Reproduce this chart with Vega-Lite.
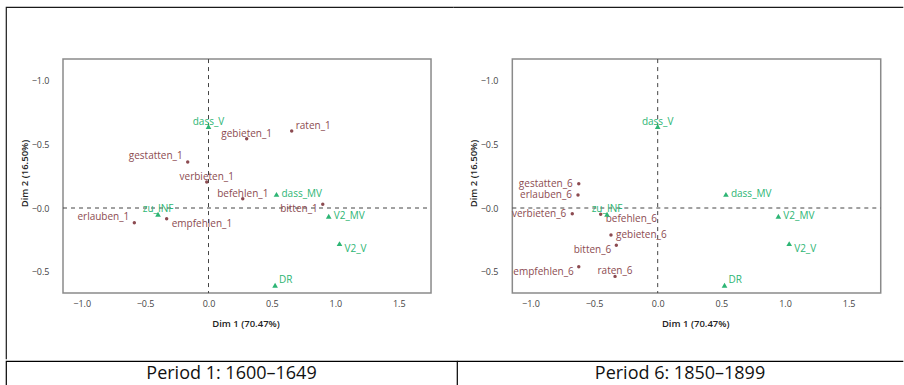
{
  "$schema": "https://vega.github.io/schema/vega-lite/v6.json",
  "background": "white",
  "padding": {"left": 5, "top": 6, "right": 0, "bottom": 0},
  "datasets": {
    "points": [
      {"label": "raten_1", "set": "verb", "period": "1600–1649", "dim1": 0.656, "dim2": -0.605},
      {"label": "gebieten_1", "set": "verb", "period": "1600–1649", "dim1": 0.301, "dim2": -0.544},
      {"label": "gestatten_1", "set": "verb", "period": "1600–1649", "dim1": -0.164, "dim2": -0.361},
      {"label": "verbieten_1", "set": "verb", "period": "1600–1649", "dim1": -0.014, "dim2": -0.204},
      {"label": "befehlen_1", "set": "verb", "period": "1600–1649", "dim1": 0.270, "dim2": -0.073},
      {"label": "bitten_1", "set": "verb", "period": "1600–1649", "dim1": 0.901, "dim2": -0.029},
      {"label": "erlauben_1", "set": "verb", "period": "1600–1649", "dim1": -0.585, "dim2": 0.115},
      {"label": "empfehlen_1", "set": "verb", "period": "1600–1649", "dim1": -0.330, "dim2": 0.084},
      {"label": "gestatten_6", "set": "verb", "period": "1850–1899", "dim1": -0.620, "dim2": -0.191},
      {"label": "erlauben_6", "set": "verb", "period": "1850–1899", "dim1": -0.626, "dim2": -0.102},
      {"label": "verbieten_6", "set": "verb", "period": "1850–1899", "dim1": -0.671, "dim2": 0.045},
      {"label": "befehlen_6", "set": "verb", "period": "1850–1899", "dim1": -0.448, "dim2": 0.049},
      {"label": "gebieten_6", "set": "verb", "period": "1850–1899", "dim1": -0.367, "dim2": 0.212},
      {"label": "bitten_6", "set": "verb", "period": "1850–1899", "dim1": -0.325, "dim2": 0.293},
      {"label": "empfehlen_6", "set": "verb", "period": "1850–1899", "dim1": -0.620, "dim2": 0.461},
      {"label": "raten_6", "set": "verb", "period": "1850–1899", "dim1": -0.335, "dim2": 0.537},
      {"label": "dass_V", "set": "construction", "period": "all", "dim1": 0.0, "dim2": -0.64},
      {"label": "dass_MV", "set": "construction", "period": "all", "dim1": 0.536, "dim2": -0.107},
      {"label": "zu_INF", "set": "construction", "period": "all", "dim1": -0.398, "dim2": 0.049},
      {"label": "V2_MV", "set": "construction", "period": "all", "dim1": 0.948, "dim2": 0.065},
      {"label": "V2_V", "set": "construction", "period": "all", "dim1": 1.033, "dim2": 0.28},
      {"label": "DR", "set": "construction", "period": "all", "dim1": 0.525, "dim2": 0.607}
    ]
  },
  "spacing": 0,
  "vconcat": [
    {
      "bounds": "flush",
      "spacing": 0,
      "hconcat": [
        {
          "width": 447,
          "height": 352,
          "view": {"stroke": "#1a1a1a", "strokeWidth": 1.2, "strokeDash": [447, 799, 352]},
          "layer": [
            {
              "data": {"values": [{}]},
              "mark": {"type": "rect", "filled": false, "stroke": "#8a8a8a", "strokeWidth": 1.5},
              "encoding": {
                "x": {
                  "datum": -1.1475, "type": "quantitative",
                  "scale": {"domain": [-1.597, 1.928], "nice": false, "zero": false},
                  "axis": {
                    "orient": "bottom", "offset": -66, "values": [-1, -0.5, 0, 0.5, 1, 1.5],
                    "labelExpr": "replace(format(datum.value, '.1f'), '-', '−')",
                    "labelPadding": 6, "labelFlush": false, "labelOverlap": false,
                    "title": "Dim 1 (70.47%)", "titlePadding": 10, "titleX": 239.5
                  }
                },
                "x2": {"datum": 1.7547},
                "y": {
                  "datum": -1.170, "type": "quantitative",
                  "scale": {"domain": [-1.579, 1.186], "nice": false, "zero": false, "reverse": true},
                  "axis": {
                    "orient": "left", "offset": -57, "values": [-1, -0.5, 0, 0.5],
                    "labelExpr": "'−' + format(abs(datum.value), '.1f')",
                    "labelPadding": 14, "labelFlush": false, "labelOverlap": false,
                    "title": "Dim 2 (16.50%)", "titlePadding": 2, "titleY": 166
                  }
                },
                "y2": {"datum": 0.668}
              }
            },
            {
              "data": {"values": [{}]},
              "mark": {"type": "rule", "color": "#444", "strokeDash": [4, 4], "strokeWidth": 1},
              "encoding": {
                "x": {"datum": 0, "type": "quantitative"},
                "y": {"datum": -1.170, "type": "quantitative"},
                "y2": {"datum": 0.668}
              }
            },
            {
              "data": {"values": [{}]},
              "mark": {"type": "rule", "color": "#444", "strokeDash": [4, 4], "strokeWidth": 1},
              "encoding": {
                "y": {"datum": 0, "type": "quantitative"},
                "x": {"datum": -1.1475, "type": "quantitative"},
                "x2": {"datum": 1.7547}
              }
            },
            {
              "data": {"name": "points"},
              "transform": [{"filter": "datum.period == '1600–1649' || datum.period == 'all'"}],
              "encoding": {
                "x": {"field": "dim1", "type": "quantitative"},
                "y": {"field": "dim2", "type": "quantitative"},
                "color": {"field": "set", "type": "nominal", "scale": {"domain": ["verb", "construction"], "range": ["#8c4b51", "#2db574"]}, "legend": null}
              },
              "layer": [
                {
                  "transform": [{"filter": "indexof(['gebieten_1','verbieten_1','befehlen_1','zu_INF','raten_6','dass_V'], datum.label) >= 0"}],
                  "mark": {"type": "text", "align": "center", "baseline": "middle", "dy": -5, "fontSize": 10},
                  "encoding": {"text": {"field": "label"}}
                },
                {
                  "transform": [{"filter": "indexof(['dass_MV','V2_MV','gebieten_6'], datum.label) >= 0"}],
                  "mark": {"type": "text", "align": "left", "baseline": "middle", "dx": 5, "dy": 0, "fontSize": 10},
                  "encoding": {"text": {"field": "label"}}
                },
                {
                  "transform": [{"filter": "indexof(['raten_1','DR'], datum.label) >= 0"}],
                  "mark": {"type": "text", "align": "left", "baseline": "middle", "dx": 4, "dy": -5, "fontSize": 10},
                  "encoding": {"text": {"field": "label"}}
                },
                {
                  "transform": [{"filter": "indexof(['V2_V','empfehlen_1','befehlen_6'], datum.label) >= 0"}],
                  "mark": {"type": "text", "align": "left", "baseline": "middle", "dx": 5, "dy": 5, "fontSize": 10},
                  "encoding": {"text": {"field": "label"}}
                },
                {
                  "transform": [{"filter": "indexof(['gestatten_6','erlauben_6','verbieten_6'], datum.label) >= 0"}],
                  "mark": {"type": "text", "align": "right", "baseline": "middle", "dx": -6, "dy": 0, "fontSize": 10},
                  "encoding": {"text": {"field": "label"}}
                },
                {
                  "transform": [{"filter": "indexof(['gestatten_1','erlauben_1'], datum.label) >= 0"}],
                  "mark": {"type": "text", "align": "right", "baseline": "middle", "dx": -5, "dy": -6, "fontSize": 10},
                  "encoding": {"text": {"field": "label"}}
                },
                {
                  "transform": [{"filter": "indexof(['bitten_1','bitten_6','empfehlen_6'], datum.label) >= 0"}],
                  "mark": {"type": "text", "align": "right", "baseline": "middle", "dx": -5, "dy": 5, "fontSize": 10},
                  "encoding": {"text": {"field": "label"}}
                },
                {
                  "transform": [{"filter": "datum.set == 'verb'"}],
                  "mark": {"type": "point", "shape": "circle", "filled": true, "size": 12, "opacity": 1}
                },
                {
                  "transform": [{"filter": "datum.set == 'construction'"}],
                  "mark": {"type": "point", "shape": "triangle-up", "filled": true, "size": 32, "opacity": 1}
                }
              ]
            }
          ]
        },
        {
          "width": 450,
          "height": 352,
          "view": {"stroke": "#1a1a1a", "strokeWidth": 1.2, "strokeDash": [450, 1154]},
          "layer": [
            {
              "data": {"values": [{}]},
              "mark": {"type": "rect", "filled": false, "stroke": "#8a8a8a", "strokeWidth": 1.5},
              "encoding": {
                "x": {
                  "datum": -1.142, "type": "quantitative",
                  "scale": {"domain": [-1.608, 1.927], "nice": false, "zero": false},
                  "axis": {
                    "orient": "bottom", "offset": -66, "values": [-1, -0.5, 0, 0.5, 1, 1.5],
                    "labelExpr": "replace(format(datum.value, '.1f'), '-', '−')",
                    "labelPadding": 6, "labelFlush": false, "labelOverlap": false,
                    "title": "Dim 1 (70.47%)", "titlePadding": 10, "titleX": 242.2
                  }
                },
                "x2": {"datum": 1.752},
                "y": {
                  "datum": -1.170, "type": "quantitative",
                  "scale": {"domain": [-1.579, 1.186], "nice": false, "zero": false, "reverse": true},
                  "axis": {
                    "orient": "left", "offset": -59, "values": [-1, -0.5, 0, 0.5],
                    "labelExpr": "'−' + format(abs(datum.value), '.1f')",
                    "labelPadding": 14, "labelFlush": false, "labelOverlap": false,
                    "title": "Dim 2 (16.50%)", "titlePadding": 2, "titleY": 166
                  }
                },
                "y2": {"datum": 0.668}
              }
            },
            {
              "data": {"values": [{}]},
              "mark": {"type": "rule", "color": "#444", "strokeDash": [4, 4], "strokeWidth": 1},
              "encoding": {
                "x": {"datum": 0, "type": "quantitative"},
                "y": {"datum": -1.170, "type": "quantitative"},
                "y2": {"datum": 0.668}
              }
            },
            {
              "data": {"values": [{}]},
              "mark": {"type": "rule", "color": "#444", "strokeDash": [4, 4], "strokeWidth": 1},
              "encoding": {
                "y": {"datum": 0, "type": "quantitative"},
                "x": {"datum": -1.142, "type": "quantitative"},
                "x2": {"datum": 1.752}
              }
            },
            {
              "data": {"name": "points"},
              "transform": [{"filter": "datum.period == '1850–1899' || datum.period == 'all'"}],
              "encoding": {
                "x": {"field": "dim1", "type": "quantitative"},
                "y": {"field": "dim2", "type": "quantitative"},
                "color": {"field": "set", "type": "nominal", "scale": {"domain": ["verb", "construction"], "range": ["#8c4b51", "#2db574"]}, "legend": null}
              },
              "layer": [
                {
                  "transform": [{"filter": "indexof(['gebieten_1','verbieten_1','befehlen_1','zu_INF','raten_6','dass_V'], datum.label) >= 0"}],
                  "mark": {"type": "text", "align": "center", "baseline": "middle", "dy": -5, "fontSize": 10},
                  "encoding": {"text": {"field": "label"}}
                },
                {
                  "transform": [{"filter": "indexof(['dass_MV','V2_MV','gebieten_6'], datum.label) >= 0"}],
                  "mark": {"type": "text", "align": "left", "baseline": "middle", "dx": 5, "dy": 0, "fontSize": 10},
                  "encoding": {"text": {"field": "label"}}
                },
                {
                  "transform": [{"filter": "indexof(['raten_1','DR'], datum.label) >= 0"}],
                  "mark": {"type": "text", "align": "left", "baseline": "middle", "dx": 4, "dy": -5, "fontSize": 10},
                  "encoding": {"text": {"field": "label"}}
                },
                {
                  "transform": [{"filter": "indexof(['V2_V','empfehlen_1','befehlen_6'], datum.label) >= 0"}],
                  "mark": {"type": "text", "align": "left", "baseline": "middle", "dx": 5, "dy": 5, "fontSize": 10},
                  "encoding": {"text": {"field": "label"}}
                },
                {
                  "transform": [{"filter": "indexof(['gestatten_6','erlauben_6','verbieten_6'], datum.label) >= 0"}],
                  "mark": {"type": "text", "align": "right", "baseline": "middle", "dx": -6, "dy": 0, "fontSize": 10},
                  "encoding": {"text": {"field": "label"}}
                },
                {
                  "transform": [{"filter": "indexof(['gestatten_1','erlauben_1'], datum.label) >= 0"}],
                  "mark": {"type": "text", "align": "right", "baseline": "middle", "dx": -5, "dy": -6, "fontSize": 10},
                  "encoding": {"text": {"field": "label"}}
                },
                {
                  "transform": [{"filter": "indexof(['bitten_1','bitten_6','empfehlen_6'], datum.label) >= 0"}],
                  "mark": {"type": "text", "align": "right", "baseline": "middle", "dx": -5, "dy": 5, "fontSize": 10},
                  "encoding": {"text": {"field": "label"}}
                },
                {
                  "transform": [{"filter": "datum.set == 'verb'"}],
                  "mark": {"type": "point", "shape": "circle", "filled": true, "size": 12, "opacity": 1}
                },
                {
                  "transform": [{"filter": "datum.set == 'construction'"}],
                  "mark": {"type": "point", "shape": "triangle-up", "filled": true, "size": 32, "opacity": 1}
                }
              ]
            }
          ]
        }
      ]
    },
    {
      "bounds": "flush",
      "spacing": 0,
      "hconcat": [
        {
          "width": 451,
          "height": 26,
          "view": {"stroke": "#000", "strokeWidth": 1.2, "strokeDash": [477, 451, 26]},
          "data": {"values": [{"caption": "Period 1: 1600–1649"}]},
          "mark": {"type": "text", "fontSize": 18, "color": "#111", "baseline": "middle", "align": "center"},
          "encoding": {"text": {"field": "caption"}}
        },
        {
          "width": 446,
          "height": 26,
          "view": {"stroke": "#000", "strokeWidth": 1.2, "strokeDash": [446, 1000]},
          "data": {"values": [{"caption": "Period 6: 1850–1899"}]},
          "mark": {"type": "text", "fontSize": 18, "color": "#111", "baseline": "middle", "align": "center"},
          "encoding": {"text": {"field": "caption"}}
        }
      ]
    }
  ],
  "config": {
    "font": "Open Sans",
    "axis": {
      "grid": false, "ticks": false, "domain": false,
      "labelFont": "Open Sans", "labelFontSize": 9, "labelColor": "#444",
      "titleFont": "Open Sans", "titleFontSize": 9.5, "titleFontWeight": 600, "titleColor": "#222"
    },
    "text": {"font": "Open Sans"}
  }
}
